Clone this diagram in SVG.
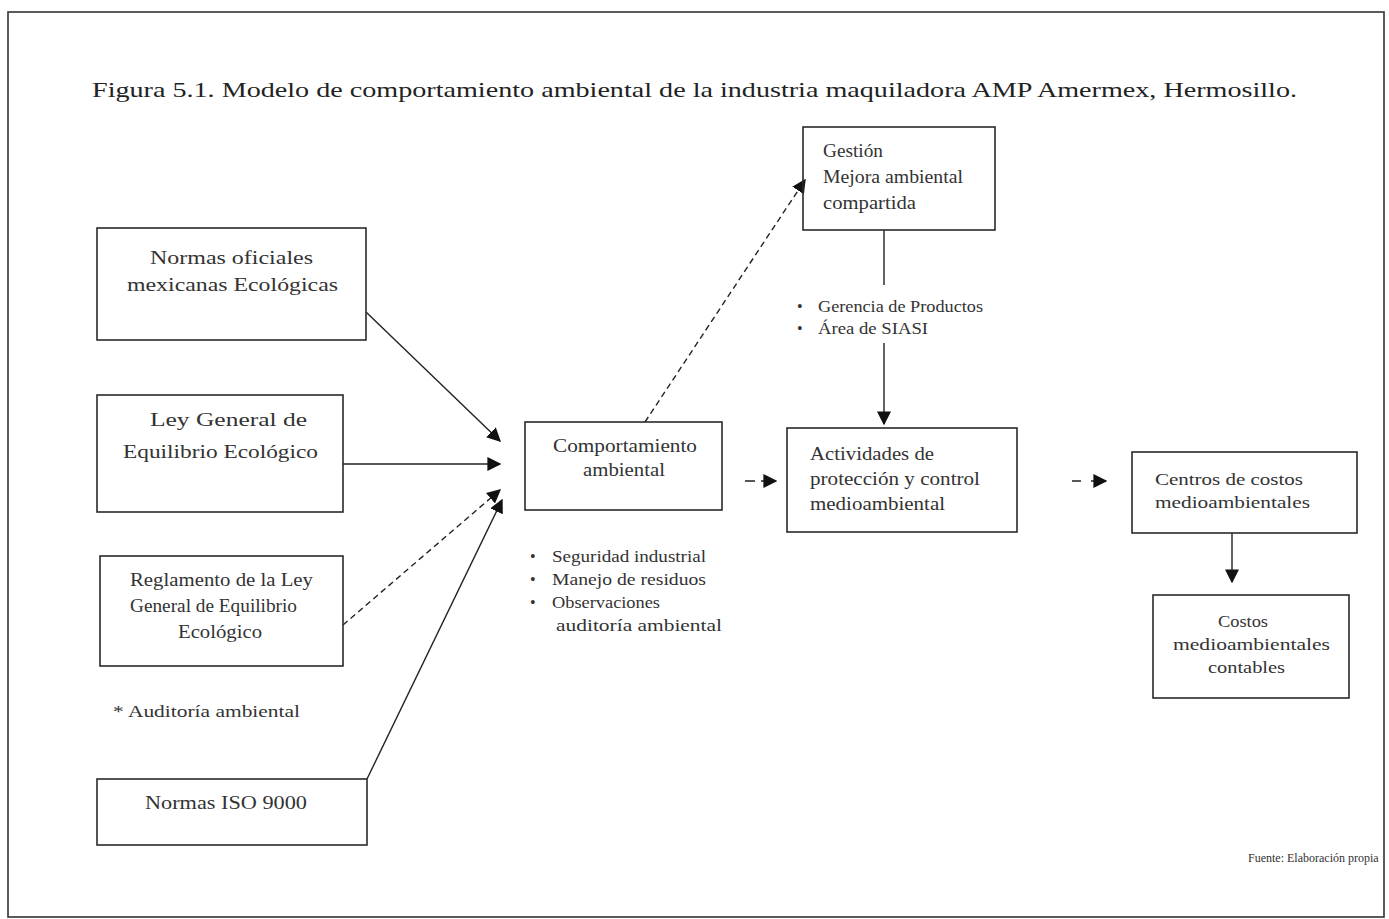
<svg xmlns="http://www.w3.org/2000/svg" width="1389" height="919" viewBox="0 0 1389 919">
<style>
.box{fill:none;stroke:#2a2a2a;stroke-width:1.6}
.t{font-family:"Liberation Serif","Times New Roman",serif;font-size:19px;fill:#333}
.s{font-size:16px}
.c{text-anchor:middle}
.conn{stroke:#222;stroke-width:1.4;fill:none}
.dash{stroke-dasharray:6 4}
</style>
<defs>
<marker id="ahb" viewBox="0 0 10 10" refX="9" refY="5" markerWidth="14" markerHeight="14" markerUnits="userSpaceOnUse" orient="auto">
<path d="M0,0 L10,5 L0,10 z" fill="#111"/>
</marker>
</defs>
<rect width="1389" height="919" fill="#fff"/>
<rect x="8" y="12" width="1376" height="905" fill="none" stroke="#333" stroke-width="1.6"/>
<text class="t" x="92" y="97" textLength="1205" lengthAdjust="spacingAndGlyphs" style="font-size:22px;fill:#222">Figura 5.1. Modelo de comportamiento ambiental de la industria maquiladora AMP Amermex, Hermosillo.</text>

<g id="connectors">
<line class="conn" x1="366" y1="312" x2="500" y2="441" marker-end="url(#ahb)"/>
<line class="conn" x1="343" y1="464" x2="500" y2="464" marker-end="url(#ahb)"/>
<line class="conn dash" x1="343" y1="625" x2="500" y2="490" marker-end="url(#ahb)"/>
<line class="conn" x1="367" y1="779" x2="502" y2="500" marker-end="url(#ahb)"/>
<line class="conn dash" x1="645" y1="422" x2="805" y2="180" marker-end="url(#ahb)"/>
<line class="conn" x1="884" y1="230" x2="884" y2="285"/>
<line class="conn" x1="884" y1="343" x2="884" y2="424" marker-end="url(#ahb)"/>
<line class="conn" x1="745" y1="481" x2="776" y2="481" stroke-dasharray="10 6" marker-end="url(#ahb)"/>
<line class="conn" x1="1072" y1="481" x2="1106" y2="481" stroke-dasharray="9 10" marker-end="url(#ahb)"/>
<line class="conn" x1="1232" y1="533" x2="1232" y2="582" marker-end="url(#ahb)"/>
</g>

<g id="n-normas">
<rect class="box" x="97" y="228" width="269" height="112"/>
<text class="t" x="150" y="264" textLength="163" lengthAdjust="spacingAndGlyphs">Normas oficiales</text>
<text class="t" x="127" y="291" textLength="211" lengthAdjust="spacingAndGlyphs">mexicanas Ecológicas</text>
</g>
<g id="n-ley">
<rect class="box" x="97" y="395" width="246" height="117"/>
<text class="t" x="150" y="426" textLength="157" lengthAdjust="spacingAndGlyphs">Ley General de</text>
<text class="t" x="123" y="458" textLength="195" lengthAdjust="spacingAndGlyphs">Equilibrio Ecológico</text>
</g>
<g id="n-reglamento">
<rect class="box" x="100" y="556" width="243" height="110"/>
<text class="t" x="130" y="586" textLength="183" lengthAdjust="spacingAndGlyphs">Reglamento de la Ley</text>
<text class="t" x="130" y="612" textLength="167" lengthAdjust="spacingAndGlyphs">General de Equilibrio</text>
<text class="t" x="178" y="638" textLength="84" lengthAdjust="spacingAndGlyphs">Ecológico</text>
</g>
<g id="n-auditoria">
<text class="t s" x="113" y="717" textLength="187" lengthAdjust="spacingAndGlyphs">* Auditoría ambiental</text>
</g>
<g id="n-iso">
<rect class="box" x="97" y="779" width="270" height="66"/>
<text class="t" x="145" y="809" textLength="162" lengthAdjust="spacingAndGlyphs">Normas ISO 9000</text>
</g>
<g id="n-comportamiento">
<rect class="box" x="525" y="422" width="197" height="88"/>
<text class="t" x="553" y="452" textLength="144" lengthAdjust="spacingAndGlyphs">Comportamiento</text>
<text class="t" x="583" y="476" textLength="82" lengthAdjust="spacingAndGlyphs">ambiental</text>
<text class="t s" x="530" y="562">•</text>
<text class="t s" x="552" y="562" textLength="154" lengthAdjust="spacingAndGlyphs">Seguridad industrial</text>
<text class="t s" x="530" y="585">•</text>
<text class="t s" x="552" y="585" textLength="154" lengthAdjust="spacingAndGlyphs">Manejo de residuos</text>
<text class="t s" x="530" y="608">•</text>
<text class="t s" x="552" y="608" textLength="108" lengthAdjust="spacingAndGlyphs">Observaciones</text>
<text class="t s" x="556" y="631" textLength="166" lengthAdjust="spacingAndGlyphs">auditoría ambiental</text>
</g>
<g id="n-gestion">
<rect class="box" x="803" y="127" width="192" height="103"/>
<text class="t" x="823" y="157" textLength="60" lengthAdjust="spacingAndGlyphs">Gestión</text>
<text class="t" x="823" y="183" textLength="140" lengthAdjust="spacingAndGlyphs">Mejora ambiental</text>
<text class="t" x="823" y="209" textLength="93" lengthAdjust="spacingAndGlyphs">compartida</text>
<text class="t s" x="797" y="312">•</text>
<text class="t s" x="818" y="312" textLength="165" lengthAdjust="spacingAndGlyphs">Gerencia de Productos</text>
<text class="t s" x="797" y="334">•</text>
<text class="t s" x="818" y="334" textLength="110" lengthAdjust="spacingAndGlyphs">Área de SIASI</text>
</g>
<g id="n-actividades">
<rect class="box" x="787" y="428" width="230" height="104"/>
<text class="t" x="810" y="460" textLength="124" lengthAdjust="spacingAndGlyphs">Actividades de</text>
<text class="t" x="810" y="485" textLength="170" lengthAdjust="spacingAndGlyphs">protección y control</text>
<text class="t" x="810" y="510" textLength="135" lengthAdjust="spacingAndGlyphs">medioambiental</text>
</g>
<g id="n-centros">
<rect class="box" x="1132" y="452" width="225" height="81"/>
<text class="t s" x="1155" y="485" textLength="148" lengthAdjust="spacingAndGlyphs">Centros de costos</text>
<text class="t s" x="1155" y="508" textLength="155" lengthAdjust="spacingAndGlyphs">medioambientales</text>
</g>
<g id="n-costos">
<rect class="box" x="1153" y="595" width="196" height="103"/>
<text class="t s" x="1218" y="627" textLength="50" lengthAdjust="spacingAndGlyphs">Costos</text>
<text class="t s" x="1173" y="650" textLength="157" lengthAdjust="spacingAndGlyphs">medioambientales</text>
<text class="t s" x="1208" y="673" textLength="77" lengthAdjust="spacingAndGlyphs">contables</text>
</g>
<g id="n-fuente">
<text class="t" x="1248" y="862" style="font-size:12px">Fuente: Elaboración propia</text>
</g>
</svg>
